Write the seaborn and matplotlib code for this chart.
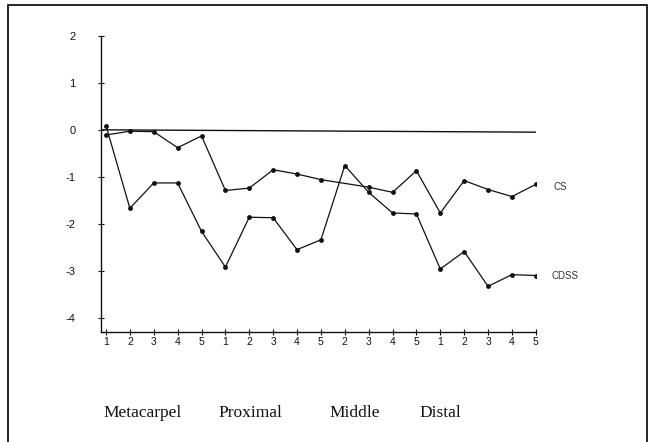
import numpy as np
import pandas as pd
import matplotlib
matplotlib.use("Agg")
import matplotlib.pyplot as plt
import seaborn as sns

# bone positions along the hand (middle phalanx of the thumb does not exist)
tick_labels = ["1", "2", "3", "4", "5",
               "1", "2", "3", "4", "5",
               "2", "3", "4", "5",
               "1", "2", "3", "4", "5"]
groups = ["Metacarpel", "Proximal", "Middle", "Distal"]

cs = [-0.11, -0.03, -0.04, -0.38, -0.13,
      -1.29, -1.24, -0.85, -0.94, -1.06,
      np.nan, -1.22, -1.33, -0.87,
      -1.77, -1.08, -1.27, -1.42, -1.16]
cdss = [0.09, -1.67, -1.13, -1.13, -2.16,
        -2.92, -1.86, -1.87, -2.55, -2.34,
        -0.76, -1.33, -1.77, -1.79,
        -2.96, -2.59, -3.33, -3.08, -3.10]

pos = np.arange(1, len(tick_labels) + 1)
df = pd.DataFrame({
    "pos": np.concatenate([pos, pos]),
    "value": cs + cdss,
    "series": ["CS"] * len(pos) + ["CDSS"] * len(pos),
})

sns.set_theme(style="white")
plt.rcParams["font.family"] = ["Liberation Sans", "DejaVu Sans"]
plt.rcParams["axes.unicode_minus"] = False

fig = plt.figure(figsize=(6.49, 4.42), dpi=100)
ax = fig.add_axes([0.1556, 0.249, 0.670, 0.670])

sns.lineplot(data=df, x="pos", y="value", hue="series",
             palette={"CS": "#111111", "CDSS": "#111111"},
             marker="o", markersize=3.5, markeredgewidth=0,
             linewidth=0.9, legend=False, ax=ax)

# zero reference line
ax.plot([pos[0] - 0.2, pos[-1]], [0, -0.05], color="#111111", linewidth=1.0)

ax.set_xlim(0.79, 19.0)
ax.set_ylim(-4.3, 2)
ax.set_xticks(pos)
ax.set_xticklabels(tick_labels)
ax.set_yticks(range(-4, 3))
ax.set_xlabel("")
ax.set_ylabel("")

ax.spines["right"].set_visible(False)
ax.spines["top"].set_visible(False)
for s in ["left", "bottom"]:
    ax.spines[s].set_color("#111111")
    ax.spines[s].set_linewidth(1.0)

ax.tick_params(axis="x", direction="inout", length=5, width=0.8,
               labelsize=7.5, pad=1, colors="#111111", bottom=True)
ax.tick_params(axis="y", direction="inout", length=5, width=0.8,
               labelsize=8, pad=16, colors="#111111", left=True)

# series labels at the right end
ax.text(pos[-1] + 0.75, cs[-1] - 0.05, "CS", fontsize=7, color="#333333",
        va="center", ha="left")
ax.text(pos[-1] + 0.65, cdss[-1], "CDSS", fontsize=7, color="#333333",
        va="center", ha="left")

# bone group labels
for g, xf in zip(groups, [0.160, 0.336, 0.508, 0.646]):
    fig.text(xf, 0.066, g, family=["Liberation Serif", "DejaVu Serif"],
             fontsize=12.5, color="#111111", ha="left", va="center")

# outer frame (bottom edge falls outside the image)
frame = plt.Rectangle((8 / 649, -0.02), 639 / 649, 1.02 - 5 / 442,
                      transform=fig.transFigure, fill=False,
                      edgecolor="black", linewidth=1.2)
fig.patches.append(frame)

fig.savefig("out.png", dpi=100)
